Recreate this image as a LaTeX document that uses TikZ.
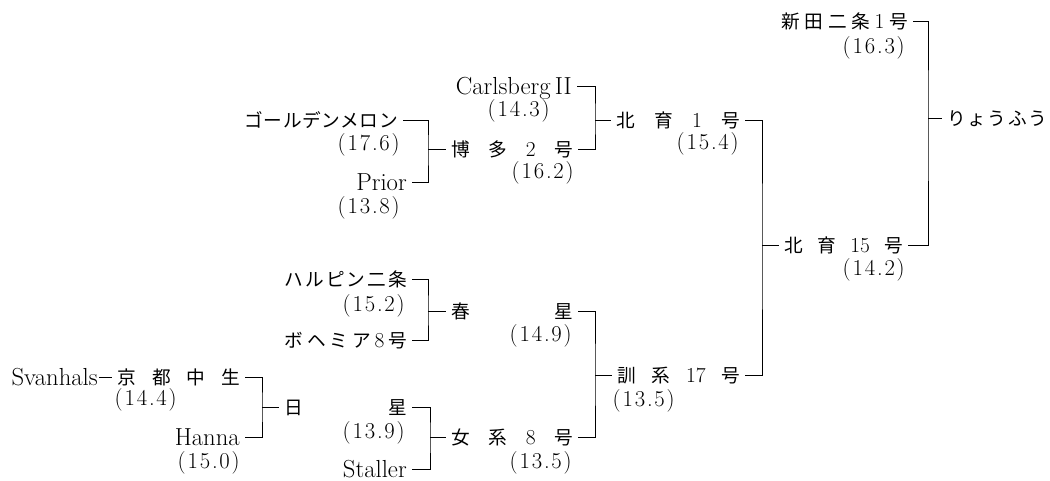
\documentclass[tikz,border=0pt]{standalone}
\usepackage{fontspec}
\newfontfamily\cjk{Noto Sans CJK JP}
\newfontfamily\numfont[LetterSpace=8]{Latin Modern Roman}
\newlength\upx
\setlength\upx{0.75pt}
\newcommand\spr[2]{\makebox[#1\upx][s]{#2}}
\newcommand\dg[1]{{\rmfamily\fontsize{16}{16}\selectfont #1}}
\begin{document}
\begin{tikzpicture}[x=0.75pt,y=-0.75pt,
  nm/.style={font=\fontsize{18.5}{18.5}\selectfont, inner xsep=3.75pt, inner ysep=0pt, text height=12.4pt, text depth=0pt, anchor=east},
  jp/.style={nm, font=\cjk\fontsize{14}{16}\selectfont, text height=11pt},
  val/.style={font=\numfont\fontsize{17}{17}\selectfont, inner sep=0pt, text height=11pt, text depth=0pt, anchor=east},
  ln/.style={line width=0.7pt, black}]
\useasboundingbox (0,0) rectangle (1050,481);
% column 1
\node[nm, inner xsep=0.75pt] (sv) at (99,377) {Svanhals};
\node[jp] (kyoto) at (245,377) {\spr{122}{京\hfil 都\hfil 中\hfil 生}};
\node[val] (n144) at (177,398) {(14.4)};
\node[nm] (hanna) at (245,437) {Hanna};
\node[val] (n150) at (240,461) {(15.0)};
% column 2
\node[jp] (golden) at (403,120) {\spr{153}{ゴ\hfil ー\hfil ル\hfil デ\hfil ン\hfil メ\hfil ロ\hfil ン}};
\node[val] (n176) at (400,143) {(17.6)};
\node[nm] (prior) at (412,182) {Prior};
\node[val] (n138) at (400,206) {(13.8)};
\node[jp] (harbin) at (412,279) {\spr{122}{ハ\hfil ル\hfil ピ\hfil ン\hfil 二\hfil 条}};
\node[val] (n152) at (405,304) {(15.2)};
\node[jp] (bohemia) at (412,340) {\spr{122}{ボ\hfil ヘ\hfil ミ\hfil ア\hfil \dg{8}\hfil 号}};
\node[jp] (nisshin) at (412,407) {\spr{122}{日\hfil 星}};
\node[val] (n139) at (405,431) {(13.9)};
\node[nm] (staller) at (412,469) {Staller};
% column 3
\node[nm] (carlsberg) at (577,86) {Carlsberg\,II};
\node[val] (n143) at (550,109) {(14.3)};
\node[jp] (hakata) at (578,149) {\spr{121}{博\hfil 多\hfil \dg{2}\hfil 号}};
\node[val] (n162) at (574,171) {(16.2)};
\node[jp] (shunsei) at (578,311) {\spr{121}{春\hfil 星}};
\node[val] (n149) at (572,334) {(14.9)};
\node[jp] (jokei) at (578,437) {\spr{121}{女\hfil 系\hfil \dg{8}\hfil 号}};
\node[val] (n135a) at (572,461) {(13.5)};
% column 4
\node[jp] (hokuiku1) at (745,120) {\spr{123}{北\hfil 育\hfil \dg{1}\hfil 号}};
\node[val] (n154) at (739,142) {(15.4)};
\node[jp] (kunkei) at (745,375) {\spr{122}{訓\hfil 系\hfil \dg{17}\hfil 号}};
\node[val] (n135b) at (675,399) {(13.5)};
% column 5
\node[jp] (shinden) at (913,21) {\spr{126}{新\hfil 田\hfil 二\hfil 条\hfil \dg{1}\hfil 号}};
\node[val] (n163) at (905,46) {(16.3)};
\node[jp] (hokuiku15) at (908,245) {\spr{118}{北\hfil 育\hfil \dg{15}\hfil 号}};
\node[val] (n142) at (905,268) {(14.2)};
\node[jp, anchor=west] (ryofu) at (942,118) {\spr{100}{り\hfil ょ\hfil う\hfil ふ\hfil う}};
% bracket x positions
\coordinate (b1) at (262,0);
\coordinate (b2) at (428,0);
\coordinate (b3) at (428,0);
\coordinate (b4) at (430,0);
\coordinate (b5) at (595,0);
\coordinate (b6) at (595,0);
\coordinate (b7) at (762,0);
\coordinate (b8) at (928,0);
% connectors
\draw[ln] (sv.east) -- (kyoto.west);
\draw[ln] (kyoto.east) -| (b1 |- nisshin.west) |- (hanna.east);
\draw[ln] (b1 |- nisshin.west) -- (nisshin.west);
\draw[ln] (golden.east) -| (b2 |- hakata.west) |- (prior.east);
\draw[ln] (b2 |- hakata.west) -- (hakata.west);
\draw[ln] (harbin.east) -| (b3 |- shunsei.west) |- (bohemia.east);
\draw[ln] (b3 |- shunsei.west) -- (shunsei.west);
\draw[ln] (nisshin.east) -| (b4 |- jokei.west) |- (staller.east);
\draw[ln] (b4 |- jokei.west) -- (jokei.west);
\draw[ln] (carlsberg.east) -| (b5 |- hokuiku1.west) |- (hakata.east);
\draw[ln] (b5 |- hokuiku1.west) -- (hokuiku1.west);
\draw[ln] (shunsei.east) -| (b6 |- kunkei.west) |- (jokei.east);
\draw[ln] (b6 |- kunkei.west) -- (kunkei.west);
\draw[ln] (hokuiku1.east) -| (b7 |- hokuiku15.west) |- (kunkei.east);
\draw[ln] (b7 |- hokuiku15.west) -- (hokuiku15.west);
\draw[ln] (shinden.east) -| (b8 |- ryofu.west) |- (hokuiku15.east);
\draw[ln] (b8 |- ryofu.west) -- (ryofu.west);
\end{tikzpicture}
\end{document}
